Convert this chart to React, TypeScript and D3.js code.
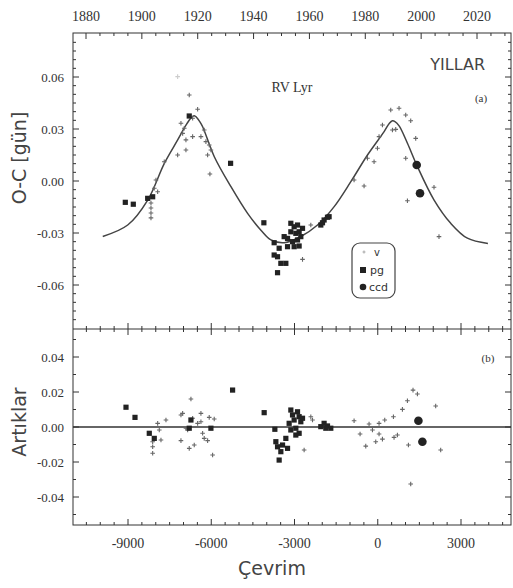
import React from "react";
import * as d3 from "d3";

// ---------- data ----------
const cycleTicks = [-9000, -6000, -3000, 0, 3000];
const yearTicks = [1880, 1900, 1920, 1940, 1960, 1980, 2000, 2020];
const ocTicks = [0.06, 0.03, 0.0, -0.03, -0.06];
const resTicks = [0.04, 0.02, 0.0, -0.02, -0.04];

// fitted O-C model curve [cycle, O-C]
const modelCurve: [number, number][] = [
  [-9910, -0.032], [-9010, -0.0254], [-8290, -0.011], [-7690, 0.0102], [-7210, 0.0237],
  [-6950, 0.0312], [-6790, 0.0352], [-6680, 0.0372], [-6610, 0.0377], [-6540, 0.0369],
  [-6420, 0.0344], [-6310, 0.0313], [-5890, 0.014], [-5290, -0.0033],
  [-4690, -0.0187], [-4210, -0.0284], [-3850, -0.034], [-3370, -0.0356], [-2770, -0.032],
  [-2170, -0.0254], [-1570, -0.0148], [-970, -0.0004], [-370, 0.015], [230, 0.0285],
  [420, 0.0333], [530, 0.0347], [620, 0.0343], [770, 0.0318], [1070, 0.0218], [1430, 0.0083],
  [2030, -0.011], [2630, -0.0244], [3230, -0.033], [3970, -0.036],
];

// O-C, visual (v)
const ocVisual: [number, number][] = [
  [-8172, -0.0127], [-8172, -0.0156], [-8172, -0.0185], [-8172, -0.0213], [-8053, -0.0042],
  [-7992, 0.0006], [-7931, -0.0062], [-7693, 0.0111], [-7211, 0.015], [-7092, 0.0333],
  [-7031, 0.0275], [-6973, 0.0304], [-6912, 0.0237], [-6912, 0.0179], [-6671, 0.0362],
  [-6491, 0.0414], [-6671, 0.0256], [-6372, 0.0256], [-6253, 0.0294], [-6192, 0.0227],
  [-6073, 0.0208], [-6131, 0.015], [-6012, 0.0179], [-6048, 0.004], [-6793, 0.0496],
  [-2412, -0.0254], [-2711, -0.0452], [-853, 0.0006], [-493, -0.0029], [-371, 0.0131],
  [-133, 0.0111], [-11, 0.0189], [47, 0.0256], [169, 0.0323], [468, 0.041], [767, 0.042],
  [529, 0.0294], [648, 0.0298], [1008, 0.0381], [1188, 0.0348], [1368, 0.0246],
  [1008, 0.0131], [1069, -0.0114], [2027, -0.0036], [2207, -0.0321],
];
const ocFaint: [number, number][] = [[-7211, 0.0602]];

// O-C, photographic (pg)
const ocPg: [number, number][] = [
  [-9097, -0.0123], [-8809, -0.0134], [-8291, -0.01], [-8111, -0.0091], [-6793, 0.0375],
  [-5303, 0.0102], [-4104, -0.0241], [-3733, -0.0356], [-3733, -0.0427], [-3611, -0.0437],
  [-3553, -0.0388], [-3611, -0.0529], [-3492, -0.0475], [-3312, -0.0475], [-3373, -0.0321],
  [-3251, -0.0331], [-3251, -0.0379], [-3132, -0.0244], [-3132, -0.0293], [-3071, -0.035],
  [-3013, -0.0264], [-3013, -0.0379], [-2952, -0.0302], [-2891, -0.0254], [-2891, -0.034],
  [-2833, -0.0293], [-2772, -0.0321], [-2711, -0.0273], [-2833, -0.0375], [-2052, -0.0254],
  [-1933, -0.0225], [-1811, -0.0209], [-1991, -0.0241], [-1753, -0.0206],
];

// O-C, CCD
const ocCcd: [number, number][] = [[1404, 0.0092], [1523, -0.0071]];

// residuals, visual
const resVisual: [number, number][] = [
  [-8111, -0.0084], [-8111, -0.0113], [-8111, -0.015], [-7931, 0.0021], [-7873, -0.0017],
  [-7812, -0.0074], [-7632, 0.004], [-7092, 0.0069], [-7031, 0.0078], [-7092, -0.0078],
  [-6912, -0.0007], [-6851, -0.0017], [-6793, -0.0122], [-6732, 0.016], [-6671, 0.005],
  [-6613, -0.0103], [-6491, 0.0021], [-6372, 0.0078], [-6372, 0.003], [-6311, -0.0036],
  [-6253, -0.0065], [-6131, -0.0078], [-6073, 0.0055], [-5951, -0.016], [-5893, 0.0046],
  [-2653, -0.0131], [-2412, 0.0059], [-2351, 0.004], [-853, 0.0036], [-637, -0.004],
  [-432, -0.0109], [-313, 0.0017], [-191, -0.0017], [-72, -0.0084], [47, -0.004],
  [47, 0.0021], [169, -0.0069], [252, 0.004], [565, 0.0059], [587, -0.0059], [709, -0.0046],
  [889, 0.0101], [1069, 0.015], [1105, -0.0103], [1271, 0.0211], [1429, 0.0189],
  [1188, -0.0326], [2088, 0.012], [2268, -0.0131],
];

// residuals, pg
const resPg: [number, number][] = [
  [-9072, 0.0113], [-8748, 0.0055], [-8233, -0.0036], [-8053, -0.0065], [-6793, -0.0007],
  [-6732, 0.004], [-6012, -0.0007], [-5231, 0.0211], [-4093, 0.0082], [-3708, -0.0013],
  [-3672, -0.0084], [-3611, -0.0113], [-3553, -0.0189], [-3431, -0.0103], [-3492, -0.0141],
  [-3251, -0.0122], [-3312, -0.0065], [-3132, 0.0097], [-3071, 0.0069], [-3013, 0.004],
  [-2891, 0.0087], [-2833, 0.0059], [-3193, 0.0021], [-3132, -0.0017], [-2952, -0.0007],
  [-2833, -0.0036], [-2772, 0.003], [-2711, 0.005], [-2952, -0.0046], [-2052, 0.0002],
  [-1933, 0.0021], [-1811, 0.0006], [-1692, -0.0007], [-1872, -0.0007],
];

// residuals, ccd
const resCcd: [number, number][] = [[1465, 0.0036], [1609, -0.0084]];

// ---------- layout ----------
const W = 513;
const H = 588;
const X0 = 73;
const X1 = 511;
const YT = 33;
const YM = 329;
const YB = 525;

const x = d3.scaleLinear().domain([-9000, 3000]).range([128, 461]);
const xYear = d3.scaleLinear().domain([1880, 2020]).range([86, 477]);
const yA = d3.scaleLinear().domain([-0.06, 0.06]).range([285, 77]);
const yB = d3.scaleLinear().domain([-0.04, 0.04]).range([497, 357]);

const INK = "#333";
const serif = "'Liberation Serif', 'DejaVu Serif', serif";
const sans = "'DejaVu Sans', 'Liberation Sans', sans-serif";
const fmt = (v: number) => d3.format(".2f")(v).replace("\u2212", "-");

function rangeStep(a: number, b: number, s: number) {
  const out: number[] = [];
  for (let v = a; v <= b + 1e-9; v += s) out.push(+v.toFixed(6));
  return out;
}

const Cross = ({ cx, cy, s = 2.3, color = "#666" }: any) => (
  <path d={`M${cx - s},${cy}H${cx + s}M${cx},${cy - s}V${cy + s}`} stroke={color} strokeWidth={1.1} fill="none" />
);

export default function App() {
  const line = d3
    .line<[number, number]>()
    .x((d) => x(d[0]))
    .y((d) => yA(d[1]))
    .curve(d3.curveCatmullRom.alpha(0.5));

  const cycMinor = rangeStep(-10500, 4500, 500).filter((v) => x(v) > X0 && x(v) < X1);
  const yearMinor = rangeStep(1875, 2030, 5).filter((v) => xYear(v) > X0 && xYear(v) < X1);
  const aMinor = rangeStep(-0.085, 0.085, 0.005).filter((v) => yA(v) > YT + 1 && yA(v) < YM - 1);
  const bMinor = rangeStep(-0.05, 0.05, 0.01).filter((v) => yB(v) > YM + 1 && yB(v) < YB - 1);

  return (
    <svg width={W} height={H} style={{ position: "absolute", left: 0, top: 0, background: "#fff" }}>
      {/* frame */}
      <rect x={X0} y={YT} width={X1 - X0} height={YB - YT} fill="none" stroke={INK} strokeWidth={1} />
      <line x1={X0} x2={X1} y1={YM} y2={YM} stroke={INK} strokeWidth={1} />

      {/* year ticks on top */}
      {yearMinor.map((v) => (
        <line key={"ym" + v} x1={xYear(v)} x2={xYear(v)} y1={YT} y2={YT + (v % 20 === 0 ? 6 : 3)} stroke={INK} />
      ))}
      {yearTicks.map((v) => (
        <text key={"yt" + v} x={xYear(v)} y={21} textAnchor="middle" fontFamily={serif} fontSize={14} fill={INK}>
          {v}
        </text>
      ))}

      {/* cycle ticks: middle line and bottom */}
      {cycMinor.map((v) => {
        const major = v % 3000 === 0;
        const len = major ? 6 : 3;
        return (
          <g key={"cm" + v}>
            <line x1={x(v)} x2={x(v)} y1={YM - len} y2={YM + len} stroke={INK} />
            <line x1={x(v)} x2={x(v)} y1={YB} y2={YB - len} stroke={INK} />
          </g>
        );
      })}
      {cycleTicks.map((v) => (
        <text key={"ct" + v} x={x(v)} y={548} textAnchor="middle" fontFamily={serif} fontSize={14} fill={INK}>
          {v}
        </text>
      ))}

      {/* y ticks panel a */}
      {aMinor.map((v) => {
        const r = Math.round(v * 1000);
        const len = r % 30 === 0 ? 6 : 3;
        return (
          <g key={"am" + v}>
            <line x1={X0} x2={X0 + len} y1={yA(v)} y2={yA(v)} stroke={INK} />
            <line x1={X1} x2={X1 - len} y1={yA(v)} y2={yA(v)} stroke={INK} />
          </g>
        );
      })}
      {ocTicks.map((v) => (
        <text key={"at" + v} x={64} y={yA(v) + 4.5} textAnchor="end" fontFamily={serif} fontSize={13} fill={INK}>
          {fmt(v)}
        </text>
      ))}

      {/* y ticks panel b */}
      {bMinor.map((v) => {
        const major = Math.round(v * 100) % 2 === 0;
        const len = major ? 6 : 3;
        return (
          <g key={"bm" + v}>
            <line x1={X0} x2={X0 + len} y1={yB(v)} y2={yB(v)} stroke={INK} />
            <line x1={X1} x2={X1 - len} y1={yB(v)} y2={yB(v)} stroke={INK} />
          </g>
        );
      })}
      {resTicks.map((v) => (
        <text key={"bt" + v} x={64} y={yB(v) + 4.5} textAnchor="end" fontFamily={serif} fontSize={13} fill={INK}>
          {fmt(v)}
        </text>
      ))}

      {/* model curve */}
      <path d={line(modelCurve) || ""} fill="none" stroke="#444" strokeWidth={1.5} />

      {/* zero line residuals */}
      <line x1={X0} x2={X1} y1={yB(0)} y2={yB(0)} stroke="#333" strokeWidth={1.6} />

      {/* points panel a */}
      {ocFaint.map((d, i) => (
        <Cross key={"f" + i} cx={x(d[0])} cy={yA(d[1])} color="#ccc" />
      ))}
      {ocVisual.map((d, i) => (
        <Cross key={"av" + i} cx={x(d[0])} cy={yA(d[1])} />
      ))}
      {ocPg.map((d, i) => (
        <rect key={"ap" + i} x={x(d[0]) - 2.6} y={yA(d[1]) - 2.6} width={5.2} height={5.2} fill="#222" />
      ))}
      {ocCcd.map((d, i) => (
        <circle key={"ac" + i} cx={x(d[0])} cy={yA(d[1])} r={4.3} fill="#222" />
      ))}

      {/* points panel b */}
      {resVisual.map((d, i) => (
        <Cross key={"bv" + i} cx={x(d[0])} cy={yB(d[1])} />
      ))}
      {resPg.map((d, i) => (
        <rect key={"bp" + i} x={x(d[0]) - 2.6} y={yB(d[1]) - 2.6} width={5.2} height={5.2} fill="#222" />
      ))}
      {resCcd.map((d, i) => (
        <circle key={"bc" + i} cx={x(d[0])} cy={yB(d[1])} r={4.3} fill="#222" />
      ))}

      {/* legend */}
      <rect x={352} y={243} width={43} height={55} rx={8} fill="#fff" stroke="#444" strokeWidth={1.2} />
      <Cross cx={364} cy={252} s={1.5} color="#aaa" />
      <text x={374} y={256} fontFamily={sans} fontSize={10} fill={INK}>v</text>
      <rect x={360} y={267} width={6} height={6} fill="#222" />
      <text x={370} y={274} fontFamily={sans} fontSize={11} fill={INK}>pg</text>
      <circle cx={363} cy={287} r={3.3} fill="#222" />
      <text x={369} y={291} fontFamily={sans} fontSize={11} fill={INK}>ccd</text>

      {/* annotations */}
      <text x={485} y={70} textAnchor="end" fontFamily={sans} fontSize={16} fill="#444">YILLAR</text>
      <text x={292} y={92} textAnchor="middle" fontFamily={serif} fontSize={14} fill={INK}>RV Lyr</text>
      <text x={481} y={102} textAnchor="middle" fontFamily={serif} fontSize={11} fill={INK}>(a)</text>
      <text x={488} y={362} textAnchor="middle" fontFamily={serif} fontSize={11} fill={INK}>(b)</text>

      {/* axis titles */}
      <text transform={`translate(26,158) rotate(-90)`} textAnchor="middle" fontFamily={sans} fontSize={19} fill="#444">
        O-C [gün]
      </text>
      <text transform={`translate(26,422) rotate(-90)`} textAnchor="middle" fontFamily={sans} fontSize={19} fill="#444">
        Artıklar
      </text>
      <text x={272} y={575} textAnchor="middle" fontFamily={sans} fontSize={19} fill="#444">Çevrim</text>
    </svg>
  );
}
